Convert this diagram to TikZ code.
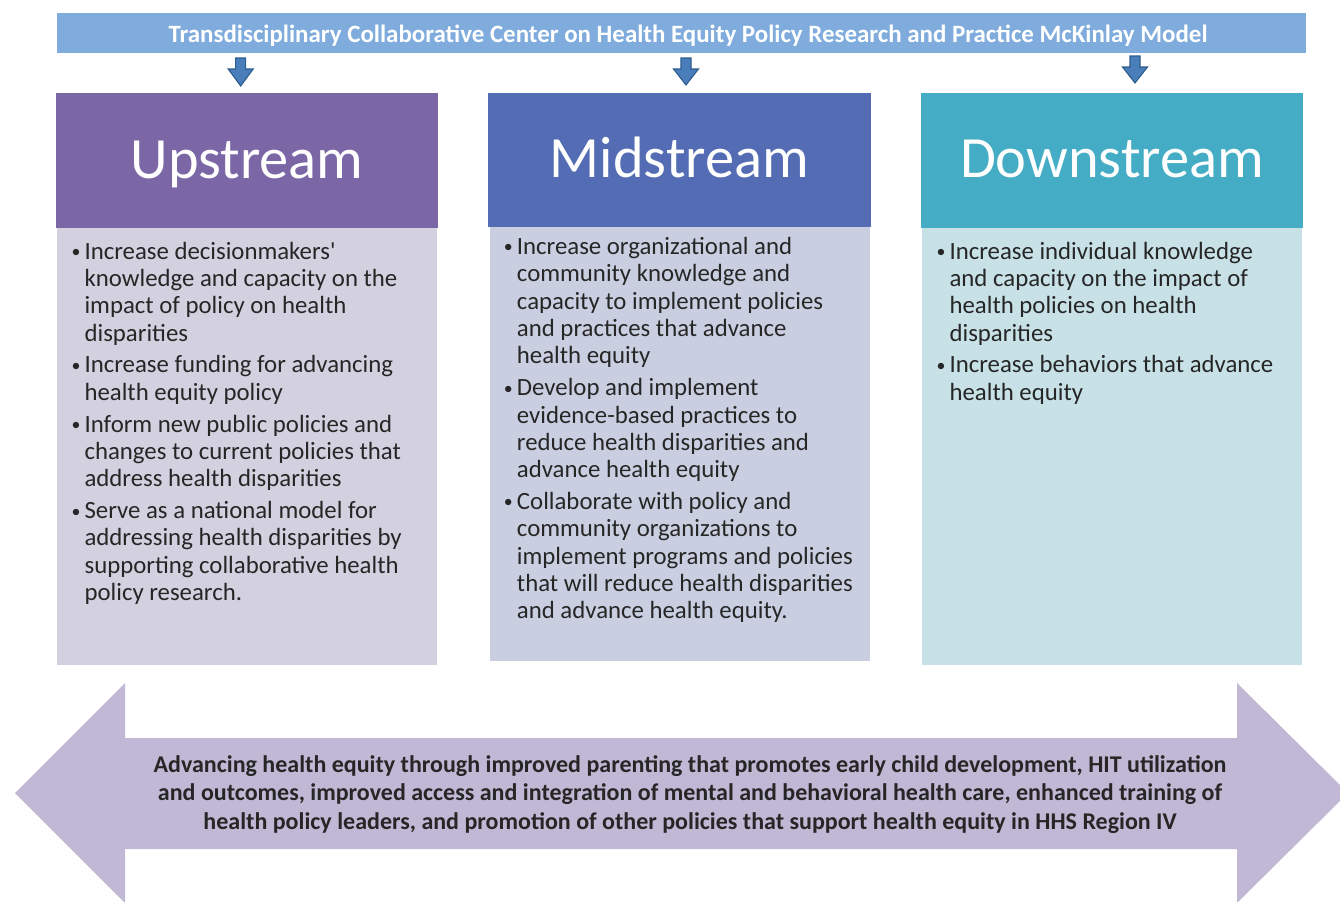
\documentclass[tikz,border=0pt]{standalone}
\usepackage{fontspec}
\usepackage{graphicx}
\setmainfont{Carlito}
\usetikzlibrary{calc}

\definecolor{bannerblue}{HTML}{7FACDC}
\definecolor{upcol}{HTML}{7B66A6}
\definecolor{upbody}{HTML}{D3D0DF}
\definecolor{midcol}{HTML}{536CB4}
\definecolor{midbody}{HTML}{C9CFE1}
\definecolor{downcol}{HTML}{44ACC4}
\definecolor{downbody}{HTML}{C7E1E7}
\definecolor{bandcol}{HTML}{C0B8D4}
\definecolor{arrowfill}{HTML}{4A7EBB}
\definecolor{arrowedge}{HTML}{2D5B8C}
\definecolor{txt}{HTML}{262626}

% small bullet, then a hanging paragraph; lines are broken by hand with \newline
\newcommand{\smallbullet}{\raisebox{1.2pt}{\scalebox{0.72}{\textbullet}}}
\newcommand{\bitem}[1]{\par\hangindent=9.75pt\hangafter=1\noindent\makebox[9.75pt][l]{\smallbullet}#1\par}
% a column of bullets, set in its own top-aligned minipage
\newenvironment{bulletcol}{\begin{minipage}[t]{300pt}\fontsize{18.6}{20.5}\selectfont\setlength{\parskip}{3.4pt}\raggedright}{\end{minipage}}

% small block arrow pointing down: centre x, top y, tip y
\newcommand{\blockdown}[3]{%
  \filldraw[fill=arrowfill, draw=arrowedge, line width=0.8pt, line join=miter]
    (#1-5,#2) -- (#1+5,#2) -- (#1+5,#2+11) -- (#1+12.5,#2+11) -- (#1,#3)
    -- (#1-12.5,#2+11) -- (#1-5,#2+11) -- cycle;}

\begin{document}
\begin{tikzpicture}[x=0.75pt,y=-0.75pt,
  box/.style={inner sep=0pt, outer sep=0pt, draw=none, rectangle},
  title/.style={anchor=base, inner sep=0pt, text=white, font=\fontsize{43.8}{50}\selectfont},
  bodytext/.style={anchor=base west, inner sep=0pt, text=txt},
]
\useasboundingbox (0,0) rectangle (1340,901);
\clip (0,0) rectangle (1340,901);

% top banner
\node[box, fill=bannerblue, minimum width=1249*0.75pt, minimum height=40*0.75pt] (ban) at (681.5,33) {};
\node[anchor=base, inner sep=0pt, text=white, font=\bfseries\fontsize{18.7}{22}\selectfont] (bantext) at (688,42)
  {Transdisciplinary Collaborative Center on Health Equity Policy Research and Practice McKinlay Model};

% column bodies
\node[box, fill=upbody,   minimum width=380*0.75pt, minimum height=437*0.75pt] (upB)   at (247,446.5) {};
\node[box, fill=midbody,  minimum width=380*0.75pt, minimum height=437*0.75pt] (midB)  at (680,442.5) {};
\node[box, fill=downbody, minimum width=380*0.75pt, minimum height=437*0.75pt] (downB) at (1112,446.5) {};

% column headers
\node[box, fill=upcol,   minimum width=382*0.75pt, minimum height=135*0.75pt] (upH)   at (247,160.5) {};
\node[box, fill=midcol,  minimum width=383*0.75pt, minimum height=134*0.75pt] (midH)  at (679.5,160) {};
\node[box, fill=downcol, minimum width=382*0.75pt, minimum height=135*0.75pt] (downH) at (1112,160.5) {};

\node[title] (upT)   at ($(upH.center)+(0,17.5)$)   {Upstream};
\node[title] (midT)  at ($(midH.center)+(0,17.5)$)  {Midstream};
\node[title] (downT) at ($(downH.center)+(0,17)$)   {Downstream};

% arrows from the banner to the headers
\blockdown{240.7}{58}{86}
\blockdown{686}{58}{85}
\blockdown{1135}{56}{83}

% bullet texts
\node[bodytext] (upL) at (71.3,259) {\begin{bulletcol}
\bitem{Increase decisionmakers\textquotesingle\newline knowledge and capacity on the\newline impact of policy on health\newline disparities}
\bitem{Increase funding for advancing\newline health equity policy}
\bitem{Inform new public policies and\newline changes to current policies that\newline address health disparities}
\bitem{Serve as a national model for\newline addressing health disparities by\newline supporting collaborative health\newline policy research.}
\end{bulletcol}};

\node[bodytext] (midL) at (503.7,254.5) {\begin{bulletcol}
\bitem{Increase organizational and\newline community knowledge and\newline capacity to implement policies\newline and practices that advance\newline health equity}
\bitem{Develop and implement\newline evidence-based practices to\newline reduce health disparities and\newline advance health equity}
\bitem{Collaborate with policy and\newline community organizations to\newline implement programs and policies\newline that will reduce health disparities\newline and advance health equity.}
\end{bulletcol}};

\node[bodytext] (downL) at (936.3,259) {\begin{bulletcol}
\bitem{Increase individual knowledge\newline and capacity on the impact of\newline health policies on health\newline disparities}
\bitem{Increase behaviors that advance\newline health equity}
\end{bulletcol}};

% bottom two-headed arrow
\fill[bandcol] (15,793) -- (125,683) -- (125,738) -- (1237,738) -- (1237,683)
  -- (1348,793) -- (1237,903) -- (1237,849) -- (125,849) -- (125,903) -- cycle;
\node[inner sep=0pt, align=center, text=txt, font=\bfseries\fontsize{18}{21.4}\selectfont] (band) at (690,794.5)
  {Advancing health equity through improved parenting that promotes early child development, HIT utilization\\
   and outcomes, improved access and integration of mental and behavioral health care, enhanced training of\\
   health policy leaders, and promotion of other policies that support health equity in HHS Region IV};
\end{tikzpicture}
\end{document}
